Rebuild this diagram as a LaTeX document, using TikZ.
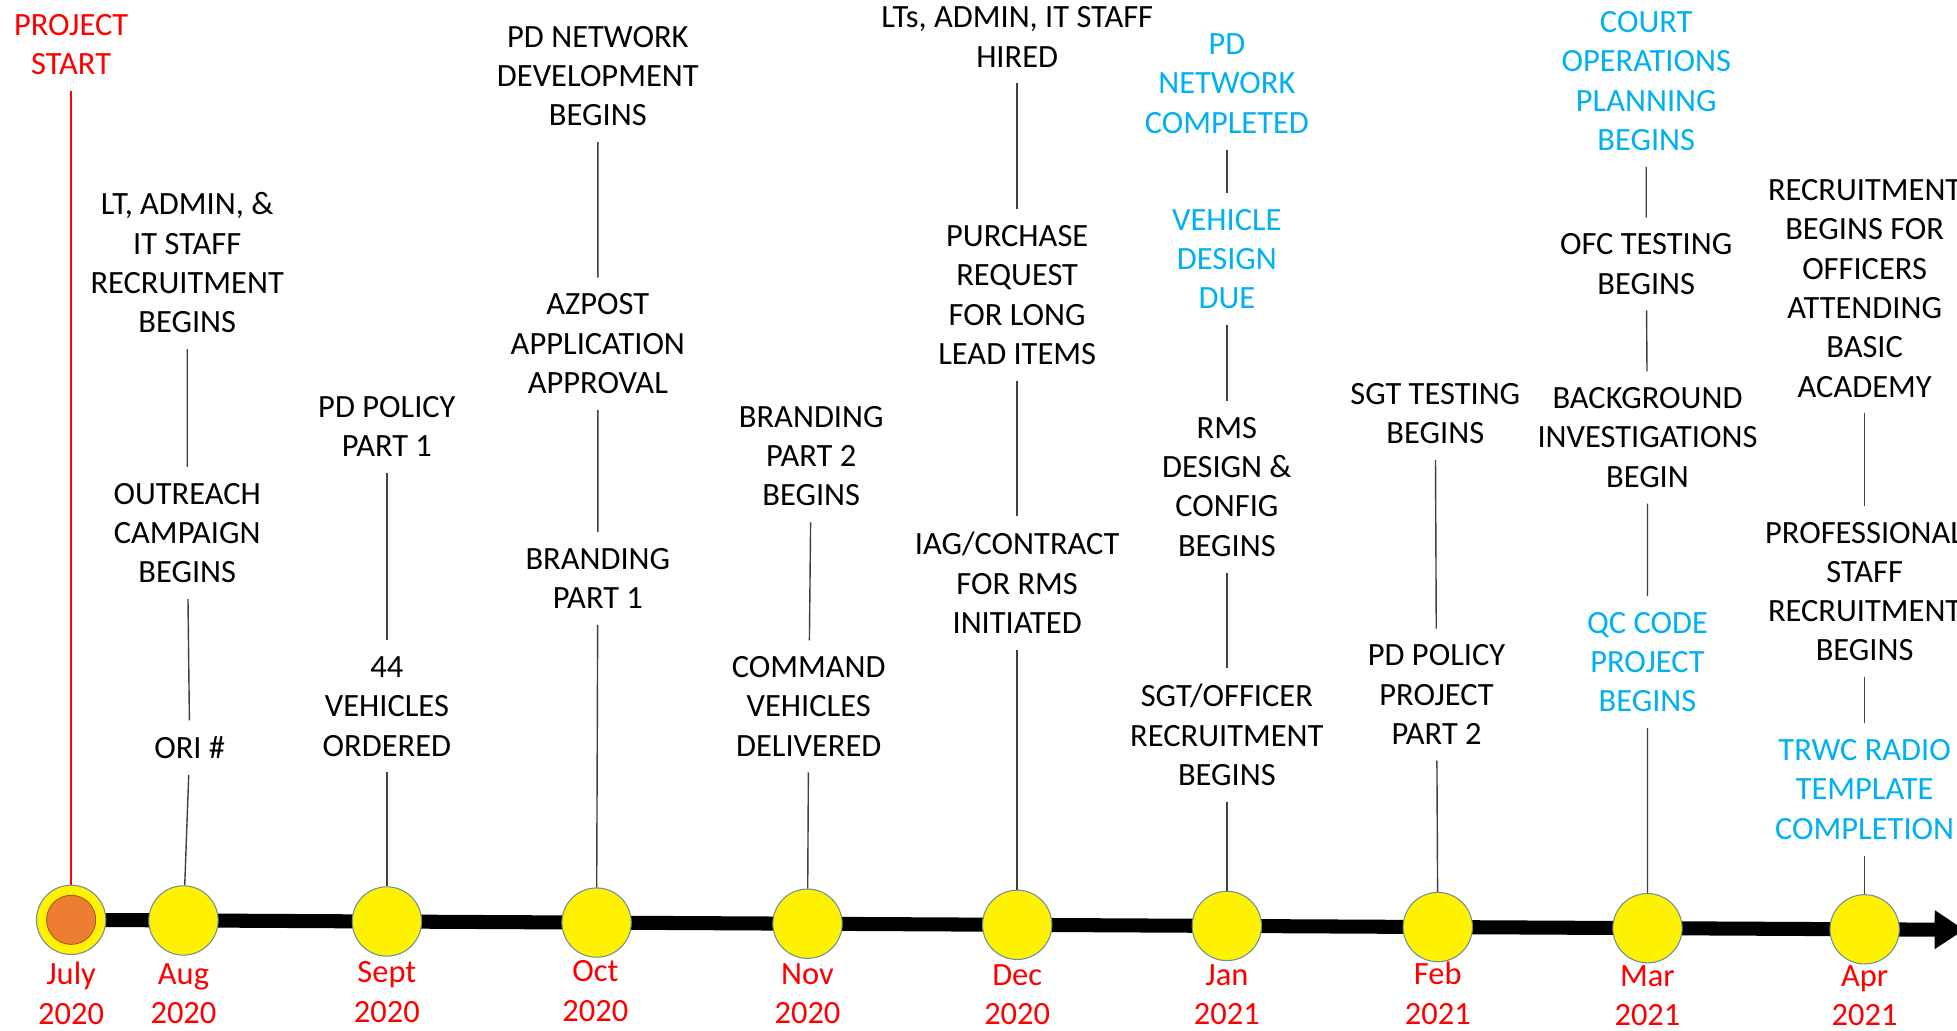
\documentclass[tikz,border=0pt]{standalone}
\usepackage{fontspec}
\setmainfont{Carlito}
\usetikzlibrary{arrows.meta,backgrounds}
\definecolor{skyblue}{HTML}{00B0F0}
\definecolor{rim}{HTML}{6E8CA0}
\definecolor{ember}{HTML}{ED7D31}
\begin{document}
\begin{tikzpicture}[x=0.025cm, y=-0.025cm,
    evt/.style   = {align=center, inner xsep=2pt, inner ysep=9pt,
                    font=\fontsize{18.5}{22.4}\selectfont},
    hot/.style   = {evt, text=skyblue},
    month/.style = {evt, text=red, inner ysep=1pt},
    dot/.style   = {circle, draw=rim, line width=0.6pt, fill=yellow,
                    minimum size=39.5pt, inner sep=0pt},
    tick/.style  = {draw=black!75, line width=0.8pt}]
  \useasboundingbox (0,0) rectangle (1568,826);

  \node [dot] (jul) at (57,737)    {};
  \fill [ember, draw=ember!70!black, line width=0.5pt] (jul) circle (14pt);
  \node [dot] (aug) at (147,737.5)  {};
  \node [dot] (sep) at (310,738.3)  {};
  \node [dot] (oct) at (478,739.2)  {};
  \node [dot] (nov) at (647,740.1)  {};
  \node [dot] (dec) at (815,741)    {};
  \node [dot] (jan) at (983,741.9)  {};
  \node [dot] (feb) at (1152,742.8) {};
  \node [dot] (mar) at (1320,743.7) {};
  \node [dot] (apr) at (1494,744.6) {};
  \coordinate (axisend) at (1574,745);
  \begin{scope}[on background layer]
    \draw [line width=8pt, -{Triangle[length=17pt, width=21pt]}] (jul.center) -- (axisend);
  \end{scope}

  \node [month] at (57,796)   {July\\2020};
  \node [month] at (147,796)  {Aug\\2020};
  \node [month] at (310,795)  {Sept\\2020};
  \node [month] at (477,794)  {Oct\\2020};
  \node [month] at (647,796)  {Nov\\2020};
  \node [month] at (815,797)  {Dec\\2020};
  \node [month] at (983,797)  {Jan\\2021};
  \node [month] at (1152,796) {Feb\\2021};
  \node [month] at (1320,798) {Mar\\2021};
  \node [month] at (1494,798) {Apr\\2021};

  \node [evt, text=red] (start) at (57,35.5) {PROJECT\\START};
  \draw [red, line width=1pt] (start) -- (jul);

  \node [evt] (ltrec)    at (150,210.5) {LT, ADMIN, \&\\IT STAFF\\RECRUITMENT\\BEGINS};
  \node [evt] (outreach) at (150,427)   {OUTREACH\\CAMPAIGN\\BEGINS};
  \node [evt] (ori)      at (152,599)   {ORI \#};
  \draw [tick] (ltrec) -- (outreach) -- (ori) -- (aug);

  \node [evt] (policyA) at (310,341.5) {PD POLICY\\PART 1};
  \node [evt] (vehord)  at (310,566)   {44\\VEHICLES\\ORDERED};
  \draw [tick] (policyA) -- (vehord) -- (sep);

  \node [evt] (netdev) at (479,61)    {PD NETWORK\\DEVELOPMENT\\BEGINS};
  \node [evt] (azpost) at (479,275.5) {AZPOST\\APPLICATION\\APPROVAL};
  \node [evt] (brandA) at (479,463.5) {BRANDING\\PART 1};
  \draw [tick] (netdev) -- (azpost) -- (brandA) -- (oct);

  \node [evt] (brandB) at (650,365.5) {BRANDING\\PART 2\\BEGINS};
  \node [evt] (cmdveh) at (648,566)   {COMMAND\\VEHICLES\\DELIVERED};
  \draw [tick] (brandB) -- (cmdveh) -- (nov);

  \node [evt] (hired)    at (815,29.5)  {LTs, ADMIN, IT STAFF\\HIRED};
  \node [evt] (purchase) at (815,236.5) {PURCHASE\\REQUEST\\FOR LONG\\LEAD ITEMS};
  \node [evt] (iag)      at (815,467)   {IAG/CONTRACT\\FOR RMS\\INITIATED};
  \draw [tick] (hired) -- (purchase) -- (iag) -- (dec);

  \node [hot] (netdone) at (983,67)    {PD\\NETWORK\\COMPLETED};
  \node [hot] (vehdes)  at (983,207.5) {VEHICLE\\DESIGN\\DUE};
  \node [evt] (rms)     at (983,390)   {RMS\\DESIGN \&\\CONFIG\\BEGINS};
  \node [evt] (sgtrec)  at (983,589)   {SGT/OFFICER\\RECRUITMENT\\BEGINS};
  \draw [tick] (netdone) -- (vehdes) -- (rms) -- (sgtrec) -- (jan);

  \node [evt] (sgttest) at (1150,331.5) {SGT TESTING\\BEGINS};
  \node [evt] (policyB) at (1151,556.5) {PD POLICY\\PROJECT\\PART 2};
  \draw [tick] (sgttest) -- (policyB) -- (feb);

  \node [hot] (court)   at (1319,65)    {COURT\\OPERATIONS\\PLANNING\\BEGINS};
  \node [evt] (ofctest) at (1319,211.5) {OFC TESTING\\BEGINS};
  \node [evt] (bgcheck) at (1320,350.5) {BACKGROUND\\INVESTIGATIONS\\BEGIN};
  \node [hot] (qccode)  at (1320,530.5) {QC CODE\\PROJECT\\BEGINS};
  \draw [tick] (court) -- (ofctest) -- (bgcheck) -- (qccode) -- (mar);

  \node [evt] (academy)   at (1494,231)   {RECRUITMENT\\BEGINS FOR\\OFFICERS\\ATTENDING\\BASIC\\ACADEMY};
  \node [evt] (profstaff) at (1494,474)   {PROFESSIONAL\\STAFF\\RECRUITMENT\\BEGINS};
  \node [hot] (radio)     at (1494,632.5) {TRWC RADIO\\TEMPLATE\\COMPLETION};
  \draw [tick] (academy) -- (profstaff) -- (radio) -- (apr);
\end{tikzpicture}
\end{document}
